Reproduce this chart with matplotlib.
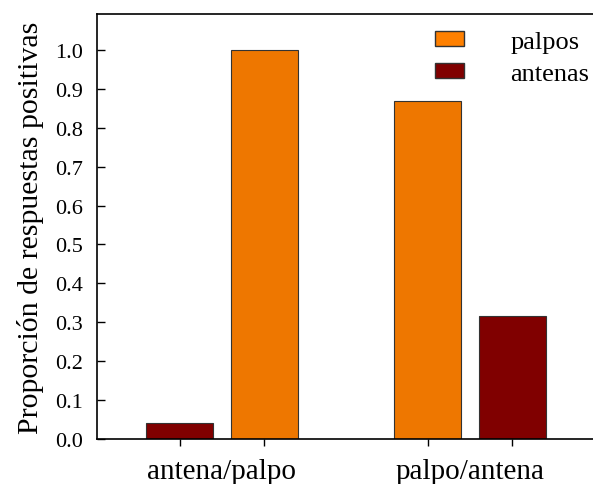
import matplotlib
matplotlib.use("Agg")
import matplotlib.pyplot as plt
from matplotlib.patches import Patch
import numpy as np

groups = ["antena/palpo", "palpo/antena"]
palpos = [1.0, 0.87]
antenas = [0.04, 0.315]
yticks = [0.0, 0.1, 0.2, 0.3, 0.4, 0.5, 0.6, 0.7, 0.8, 0.9, 1.0]

plt.rcParams["font.family"] = ["Liberation Serif", "DejaVu Serif"]

W, H = 593, 485
fig = plt.figure(figsize=(W / 100, H / 100), dpi=100)
ax = fig.add_axes([97 / W, 45 / H, 1 - 97 / W, (440 - 15) / H])

x = np.arange(len(groups))
off = 0.17
w = 0.27
orange = "#EE7700"
dark = "#800000"
edge = "#333333"

# first group: antenas left, palpos right; second group: palpos left, antenas right
ax.bar(x[0] - off, antenas[0], w, color=dark, edgecolor=edge, linewidth=0.8)
ax.bar(x[0] + off, palpos[0], w, color=orange, edgecolor=edge, linewidth=0.8)
ax.bar(x[1] - off, palpos[1], w, color=orange, edgecolor=edge, linewidth=0.8)
ax.bar(x[1] + off, antenas[1], w, color=dark, edgecolor=edge, linewidth=0.8)

ax.set_xlim(-0.504, 1.496)
ax.set_ylim(0, 1.0925)
ax.set_yticks(yticks)
ax.set_yticklabels([f"{v:.1f}" for v in yticks], fontsize=16)
ax.tick_params(axis="y", direction="in", length=6, width=1, pad=10)

ax.set_xticks([x[0] - off, x[0] + off, x[1] - off, x[1] + off])
ax.set_xticklabels([])
ax.tick_params(axis="x", which="major", direction="out", length=5, width=1)
ax.set_xticks(x, minor=True)
ax.set_xticklabels(groups, minor=True, fontsize=21)
ax.tick_params(axis="x", which="minor", length=0, pad=14)

ax.spines["right"].set_visible(False)
for s in ["left", "bottom", "top"]:
    ax.spines[s].set_linewidth(1.2)

ax.set_ylabel("Proporción de respuestas positivas", fontsize=21.5, labelpad=8)

handles = [Patch(facecolor="#FF8000", edgecolor=edge, label="palpos"),
           Patch(facecolor=dark, edgecolor=edge, label="antenas")]
fig.legend(handles=handles, loc="upper left",
           bbox_to_anchor=(435 / W, 1 - 32 / H), bbox_transform=fig.transFigure,
           frameon=False, fontsize=19, borderpad=0, borderaxespad=0,
           handlelength=1.1, handleheight=0.46,
           handletextpad=1.75, labelspacing=0.38)

fig.savefig("out.png", dpi=100)
